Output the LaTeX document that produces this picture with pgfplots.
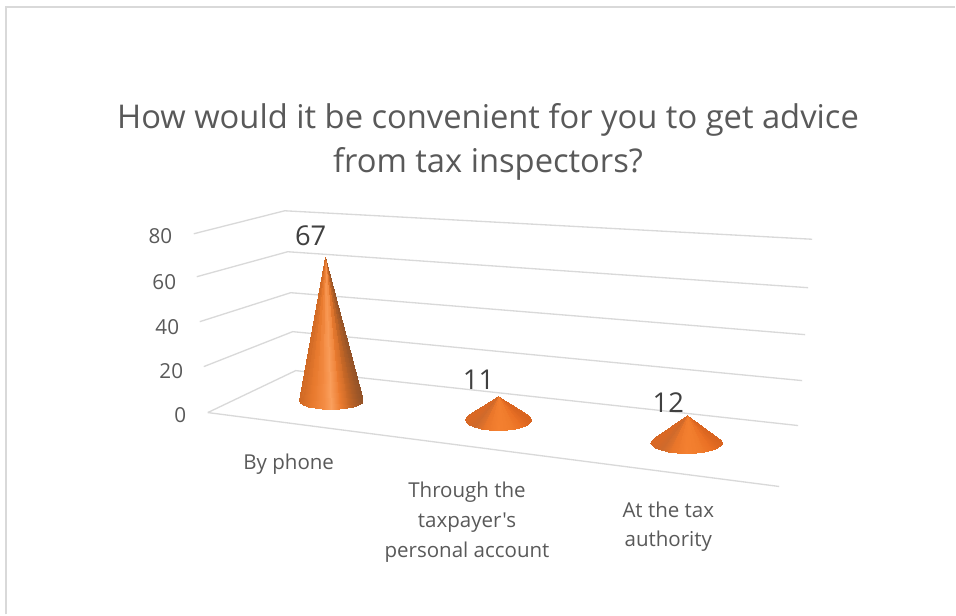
\documentclass[border=0pt]{standalone}
\usepackage{fontspec}
\setmainfont{Open Sans}
\newfontfamily\literalfont{Open Sans}
\usepackage{pgfplots}
\usepackage{pgfplotstable}
\pgfplotsset{compat=1.18}

\definecolor{gridgray}{RGB}{217,217,217}
\definecolor{titlegray}{RGB}{89,89,89}
\definecolor{valuegray}{RGB}{64,64,64}

% Unit cone: three rows per facet (apex, two rim points). u and w run around
% the rim, h is 1 at the apex and m is the shading position of the facet.
\pgfplotstableread{
u w h m
0 0 1 0.916
0.866 -0.5 0 0.866
0.966 -0.259 0 0.966
0 0 1 0.983
0.966 -0.259 0 0.966
1 0 0 1
0 0 1 0.983
1 0 0 1
0.966 0.259 0 0.966
0 0 1 0.916
0.966 0.259 0 0.966
0.866 0.5 0 0.866
0 0 1 0.786
0.866 0.5 0 0.866
0.707 0.707 0 0.707
0 0 1 0.603
0.707 0.707 0 0.707
0.5 0.866 0 0.5
0 0 1 0.38
0.5 0.866 0 0.5
0.259 0.966 0 0.259
0 0 1 0.13
0.259 0.966 0 0.259
0 1 0 0
0 0 1 -0.13
0 1 0 0
-0.259 0.966 0 -0.259
0 0 1 -0.38
-0.259 0.966 0 -0.259
-0.5 0.866 0 -0.5
0 0 1 -0.603
-0.5 0.866 0 -0.5
-0.707 0.707 0 -0.707
0 0 1 -0.786
-0.707 0.707 0 -0.707
-0.866 0.5 0 -0.866
0 0 1 -0.916
-0.866 0.5 0 -0.866
-0.966 0.259 0 -0.966
0 0 1 -0.983
-0.966 0.259 0 -0.966
-1 0 0 -1
0 0 1 -0.983
-1 0 0 -1
-0.966 -0.259 0 -0.966
0 0 1 -0.916
-0.966 -0.259 0 -0.966
-0.866 -0.5 0 -0.866
}\coneshape

% #1 value, #2 #3 rim centre, #4 #5 rim radii, #6 height per unit of value,
% #7 apex offset, #8 colormap
\newcommand{\conebar}[8]{%
  \addplot[patch, patch type=triangle, shader=interp, colormap name=#8,
           point meta=\thisrow{m}, point meta min=-1, point meta max=1]
    table[x expr={#2+#4*\thisrow{u}+#7*\thisrow{h}},
          y expr={#3+#5*\thisrow{w}-#6*#1*\thisrow{h}}] {\coneshape};%
}

\pgfplotsset{
  wall/.style={gridgray, line width=1pt, no marks},
  /pgfplots/colormap={tallcone}{
    rgb255(0pt)=(206,104,36); rgb255(4pt)=(232,122,46); rgb255(8pt)=(244,140,68);
    rgb255(10pt)=(250,160,94); rgb255(13pt)=(236,124,48); rgb255(16pt)=(196,102,38);
    rgb255(20pt)=(146,82,40)},
  /pgfplots/colormap={flatcone}{
    rgb255(0pt)=(218,104,36); rgb255(3pt)=(206,106,44); rgb255(6pt)=(234,118,42);
    rgb255(10pt)=(244,128,48); rgb255(14pt)=(240,124,44); rgb255(17pt)=(234,112,36);
    rgb255(20pt)=(216,100,32)},
}

\begin{document}
\begin{tikzpicture}
\begin{axis}[
  scale only axis, width=717pt, height=461.25pt,
  xmin=0, xmax=956, ymin=0, ymax=615, y dir=reverse,
  axis lines=none, clip=false,
]
% page extent
\path (axis cs:0,0) rectangle (axis cs:956,615);

% chart frame
\addplot[gridgray, line width=1.5pt, no marks] coordinates {(6,615) (6,7) (956,7)};

% walls and floor, one polyline per value of the scale
\addplot[wall] coordinates {(194,234) (285,211) (813,239.5)};
\addplot[wall] coordinates {(197,277) (288,252) (809,288)};
\addplot[wall] coordinates {(200,322) (291,293) (806,335)};
\addplot[wall] coordinates {(204,367) (293,332) (803,381)};
\addplot[wall] coordinates {(208,413) (296,371) (799,426)};
\addplot[wall] coordinates {(208,413) (780,487)};

% cones
\conebar{67}{331}{400.5}{32}{9.5}{2.142}{-6}{tallcone}
\conebar{11}{498.5}{420}{33.5}{11}{2.18}{0}{flatcone}
\conebar{12}{687}{443}{36}{11}{2.33}{1}{flatcone}

% value labels
\node[text=valuegray, font=\fontsize{20.5}{24}\selectfont] at (axis cs:311,236) {67};
\node[text=valuegray, font=\fontsize{20.5}{24}\selectfont] at (axis cs:479,380) {11};
\node[text=valuegray, font=\fontsize{20.5}{24}\selectfont] at (axis cs:669,403) {12};

% scale labels
\foreach \lab/\px/\py in {80/177/236, 60/181/282, 40/184/327, 20/188/372, 0/191/416}{
  \edef\tmp{\noexpand\node[anchor=east, text=titlegray, font=\noexpand\fontsize{15.5}{17}\noexpand\selectfont] at (axis cs:\px,\py) {\lab};}
  \tmp
}

% category labels
\node[text=titlegray, font=\fontsize{15.4}{22.5}\selectfont, align=center] at (axis cs:289,464.5) {By phone};
\node[text=titlegray, font=\fontsize{15.4}{22.5}\selectfont, align=center] at (axis cs:467.5,522.5) {Through the\\{\literalfont taxpayer's}\\personal account};
\node[text=titlegray, font=\fontsize{15.4}{22}\selectfont, align=center] at (axis cs:669,527.5) {At the tax\\authority};

% title
\node[text=titlegray, font=\fontsize{24.55}{33}\selectfont, align=center] at (axis cs:488.5,142) {How would it be convenient for you to get advice\\from tax inspectors?};
\end{axis}
\end{tikzpicture}
\end{document}
